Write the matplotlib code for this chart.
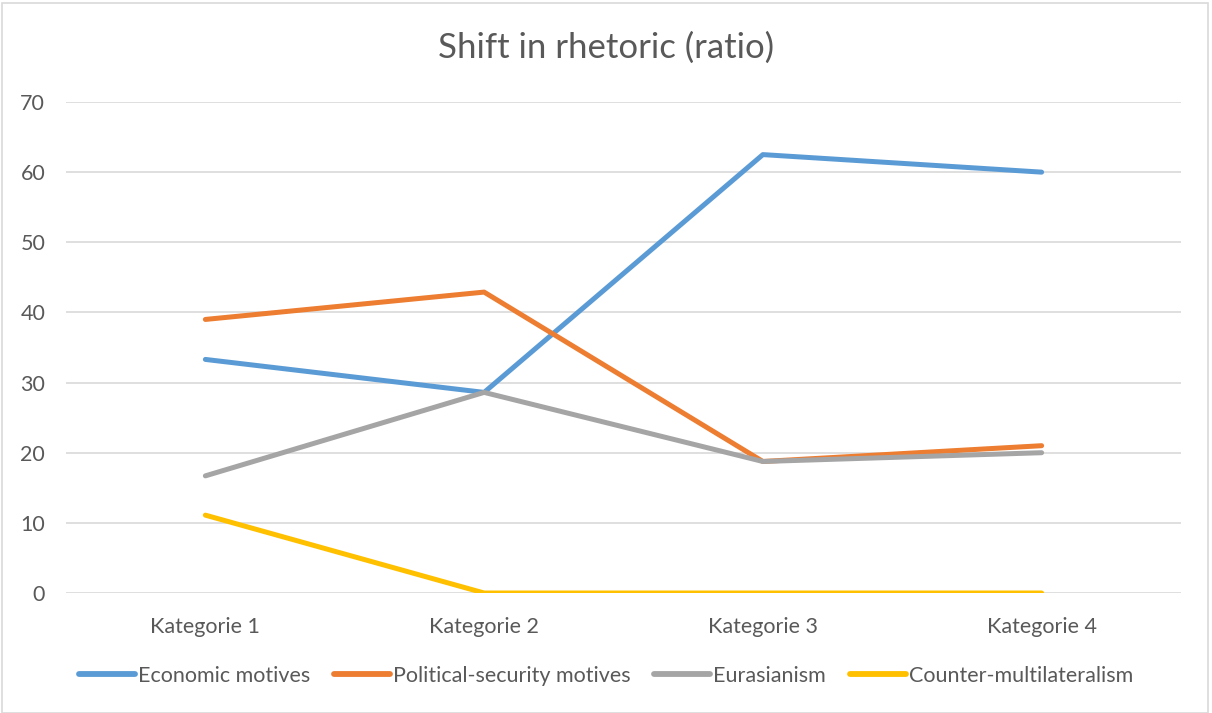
import numpy as np
import matplotlib.pyplot as plt
from matplotlib.patches import Rectangle

categories = ['Kategorie 1', 'Kategorie 2', 'Kategorie 3', 'Kategorie 4']
economic = [33.3, 28.6, 62.5, 60.0]
political = [39.0, 42.9, 18.75, 21.0]
eurasianism = [16.7, 28.6, 18.75, 20.0]
counter = [11.1, 0.0, 0.0, 0.0]

series_names = ['Economic motives', 'Political-security motives',
                'Eurasianism', 'Counter-multilateralism']
colors = ['#5B9BD5', '#ED7D31', '#A5A5A5', '#FFC000']
text_color = '#595959'


def main():
    plt.rcParams['font.family'] = ['Lato', 'DejaVu Sans']

    fig = plt.figure(figsize=(12.12, 7.13), dpi=100)
    ax = fig.add_axes([66 / 1212, 1 - 593 / 713, (1181 - 66) / 1212, (593 - 102) / 713])

    x = np.arange(len(categories))
    for vals, name, c in zip([economic, political, eurasianism, counter], series_names, colors):
        ax.plot(x, vals, color=c, lw=3.6, label=name,
                solid_capstyle='round', solid_joinstyle='round')

    ax.set_xlim(-0.5, len(categories) - 0.5)
    ax.set_ylim(0, 70)
    ax.set_yticks(range(0, 71, 10))
    ax.set_xticks(x)
    ax.set_xticklabels(categories)
    ax.grid(axis='y', color='#D9D9D9', lw=1.2)
    ax.set_axisbelow(True)
    for s in ax.spines.values():
        s.set_visible(False)
    ax.tick_params(length=0, labelsize=15.5, colors=text_color, pad=17)
    ax.tick_params(axis='y', pad=15)

    fig.text(0.5, 1 - 48 / 713, 'Shift in rhetoric (ratio)', ha='center', va='center',
             fontsize=25, color=text_color)

    leg = fig.legend(loc='center', bbox_to_anchor=(0.5, 1 - 676 / 713), ncol=4,
                     frameon=False, fontsize=15.5, labelcolor=text_color,
                     handlelength=2.6, handletextpad=0.15, columnspacing=1.1)
    for h in leg.get_lines():
        h.set_linewidth(4.2)
        h.set_solid_capstyle('round')

    # 外框
    fig.patches.append(Rectangle((2 / 1212, 0), 1206 / 1212, 1 - 3 / 713,
                                 transform=fig.transFigure, fill=False,
                                 edgecolor='#D9D9D9', lw=1.2))

    plt.savefig('out.png', dpi=100)


if __name__ == '__main__':
    main()
